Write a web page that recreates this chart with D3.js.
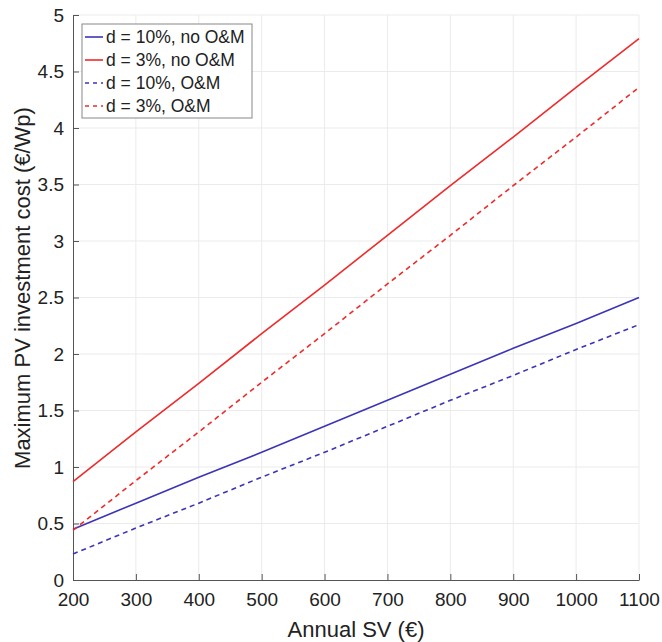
<!DOCTYPE html>
<html>
<meta charset="utf-8">
<head>
<script src="https://d3js.org/d3.v7.min.js"></script>
<style>
html, body { margin: 0; padding: 0; background: #fff; }
svg { display: block; font-family: 'Liberation Sans', Arial, sans-serif; }
</style>
</head>
<body>
<svg id="chart"></svg>
<script>
var width = 662;
var height = 642;
var margin = {top: 15, right: 23, bottom: 62, left: 73};

// data
var sv = [200, 300, 400, 500, 600, 700, 800, 900, 1000, 1100];
var d10NoOM = [0.45, 0.68, 0.91, 1.13, 1.36, 1.59, 1.82, 2.05, 2.27, 2.50];
var d3NoOM  = [0.87, 1.31, 1.74, 2.18, 2.61, 3.05, 3.49, 3.92, 4.36, 4.79];
var d10OM   = [0.23, 0.46, 0.68, 0.91, 1.13, 1.36, 1.59, 1.81, 2.04, 2.26];
var d3OM    = [0.44, 0.88, 1.31, 1.75, 2.18, 2.62, 3.05, 3.49, 3.92, 4.36];
var xTicks = [200, 300, 400, 500, 600, 700, 800, 900, 1000, 1100];
var yTicks = [0, 0.5, 1, 1.5, 2, 2.5, 3, 3.5, 4, 4.5, 5];

var blue = "#3b34b8";
var red = "#f02a2a";

var series = [
	{name: "d = 10%, no O&M", values: d10NoOM, color: blue, dash: null},
	{name: "d = 3%, no O&M", values: d3NoOM, color: red, dash: null},
	{name: "d = 10%, O&M", values: d10OM, color: blue, dash: "5,4"},
	{name: "d = 3%, O&M", values: d3OM, color: red, dash: "5,4"}
];

var svg = d3.select("#chart").attr("width", width).attr("height", height);

var x = d3.scaleLinear().domain([200, 1100]).range([margin.left, width - margin.right]);
var y = d3.scaleLinear().domain([0, 5]).range([height - margin.bottom, margin.top]);

// grid
var grid = svg.append("g");
grid.selectAll(".vg").data(xTicks.slice(1)).enter().append("line")
	.attr("x1", function(d) { return x(d); }).attr("x2", function(d) { return x(d); })
	.attr("y1", y(0)).attr("y2", y(5))
	.style("stroke", "#ebebeb").style("stroke-width", 1);
grid.selectAll(".hg").data(yTicks.slice(1)).enter().append("line")
	.attr("x1", x(200)).attr("x2", x(1100))
	.attr("y1", function(d) { return y(d); }).attr("y2", function(d) { return y(d); })
	.style("stroke", "#ebebeb").style("stroke-width", 1);

// axes
var xAxis = svg.append("g")
	.attr("transform", "translate(0," + y(0) + ")")
	.call(d3.axisBottom(x).tickValues(xTicks).tickFormat(d3.format("d")).tickSize(-6).tickPadding(13).tickSizeOuter(0));
var yAxis = svg.append("g")
	.attr("transform", "translate(" + x(200) + ",0)")
	.call(d3.axisLeft(y).tickValues(yTicks).tickFormat(d3.format("")).tickSize(-6).tickPadding(9).tickSizeOuter(0));

[xAxis, yAxis].forEach(function(a) {
	a.select(".domain").style("stroke", "#555");
	a.selectAll(".tick line").style("stroke", "#555");
	a.selectAll(".tick text").style("font-size", "19px").style("fill", "#222")
		.style("font-family", "'Liberation Sans', Arial, sans-serif");
});
xAxis.selectAll(".tick text").attr("dy", "0.71em");

// axis titles
svg.append("text")
	.attr("x", (x(200) + x(1100)) / 2).attr("y", 637)
	.attr("text-anchor", "middle")
	.style("font-size", "22px").style("fill", "#222")
	.text("Annual SV (€)");
svg.append("text")
	.attr("transform", "translate(30,288) rotate(-90)")
	.attr("text-anchor", "middle")
	.style("font-size", "22px").style("fill", "#222")
	.text("Maximum PV investment cost (€/Wp)");

// lines
var line = d3.line()
	.x(function(d, i) { return x(sv[i]); })
	.y(function(d) { return y(d); });

svg.append("g").selectAll("path").data(series).enter().append("path")
	.attr("d", function(s) { return line(s.values); })
	.style("fill", "none")
	.style("stroke", function(s) { return s.color; })
	.style("stroke-width", 1.6)
	.style("stroke-dasharray", function(s) { return s.dash; });

// legend
var legend = svg.append("g").attr("transform", "translate(82,24)");
legend.append("rect")
	.attr("width", 170).attr("height", 94)
	.style("fill", "#fff").style("stroke", "#888").style("stroke-width", 1);
var item = legend.selectAll(".item").data(series).enter().append("g")
	.attr("transform", function(s, i) { return "translate(0," + (13 + i * 23) + ")"; });
item.append("line")
	.attr("x1", 3).attr("x2", 21).attr("y1", 0).attr("y2", 0)
	.style("stroke", function(s) { return s.color; })
	.style("stroke-width", 1.6)
	.style("stroke-dasharray", function(s) { return s.dash ? "4,4" : null; });
item.append("text")
	.attr("x", 24).attr("y", 0).attr("dy", "0.35em")
	.style("font-size", "17.5px").style("fill", "#222")
	.text(function(s) { return s.name; });
</script>
</body>
</html>
